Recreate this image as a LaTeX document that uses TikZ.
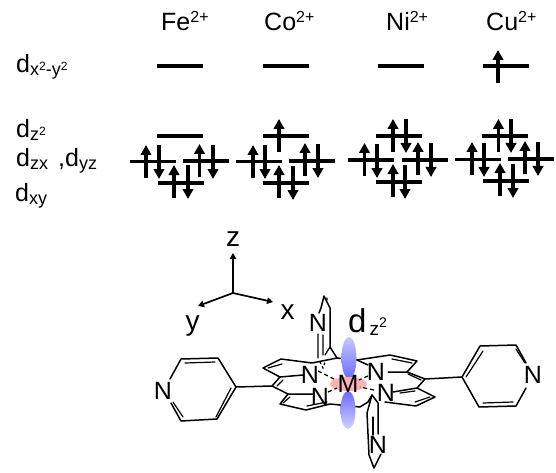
\documentclass[tikz,border=0pt]{standalone}
\usepackage{fontspec}
\setmainfont{Liberation Sans}
\usetikzlibrary{arrows.meta}
\newcommand{\fsz}[1]{\fontsize{#1}{#1}\selectfont}
\newcommand{\subd}[1]{\raisebox{-3pt}{\fsz{18}#1}}
\newcommand{\supd}[1]{\raisebox{5pt}{\fsz{12}#1}}
\newcommand{\ionsup}{\raisebox{8.5pt}{\fsz{16}2+}}

\begin{document}
\begin{tikzpicture}[x=1pt, y=-1pt, font=\fsz{25},
  lvl/.style={line width=3.1pt},
  elec/.style={line width=3.1pt, -{Triangle[length=10pt, width=10.5pt]}},
  ax/.style={line width=1.7pt, -{Triangle[length=6pt, width=6.5pt]}},
  bond/.style={line width=1.5pt, line cap=round, line join=round},
  thin bond/.style={line width=1.2pt, line cap=round},
  metal/.style={line width=1.2pt, dash pattern=on 4pt off 3pt},
  ion/.style={anchor=base west},
  orb/.style={anchor=base west},
  atom/.style={font=\fsz{25}, inner sep=0pt}]
  \useasboundingbox (0,0) rectangle (556,473);
  % ---------- ions ----------
  \foreach \x/\n/\t in {161/fe/Fe, 264/co/Co, 386/ni/Ni, 486/cu/Cu}
    { \node[ion, inner sep=0pt] (ion\n) at (\x, 31) {\t\ionsup}; }
  % ---------- orbital names ----------
  \node[orb, inner sep=0pt] (dxy2) at (16, 73) {d\subd{x\supd{2}-y\supd{2}}};
  \node[orb, inner sep=0pt] (dz) at (16, 138) {d\subd{z\supd{2}}};
  \node[orb, inner sep=0pt] (dzx) at (16, 166) {d\subd{zx}};
  \node[orb, inner sep=0pt] (dyz) at (58, 166) {,d\subd{yz}};
  \node[orb, inner sep=0pt] (dxy) at (15, 201) {d\subd{xy}};
  % ---------- levels ----------
  \foreach \x/\y in {157/66, 157/136, 130/161.5, 183/161, 158/183,
    263/66, 263/136, 236/161.5, 289/161, 263/183,
    378/66, 376/136, 348/160, 402/160, 376/182,
    483/66, 482/136, 455/159.5, 508/159, 483/181}
    { \draw[lvl] (\x, \y) -- ++(46, 0); }
  % ---------- spin up ----------
  \foreach \x/\y in {146/178, 199.5/177, 174/198,
    279/152, 253/178, 305/176, 279/198,
    393/152, 364.5/176, 418/175, 393/197,
    498/83, 498.5/152, 472/175, 525/174, 500/196}
    { \draw[elec] (\x, \y) -- ++(0, -33); }
  % ---------- spin down ----------
  \foreach \x/\y in {159/145, 213/145, 188/165,
    265/145, 318/144, 293/166,
    406/119, 377/144, 431/143, 405/165,
    511/119, 484/143, 538/142, 513/164}
    { \draw[elec] (\x, \y) -- ++(0, 34); }
  % ---------- axes ----------
  \coordinate (orig) at (233, 293);
  \node[font=\fsz{28}, inner sep=0pt] (zlab) at (233, 239) {z};
  \node[font=\fsz{28}, inner sep=0pt] (xlab) at (287.5, 312) {x};
  \node[font=\fsz{28}, inner sep=0pt] (ylab) at (192.5, 326) {y};
  \coordinate (ztip) at (233, 253);
  \coordinate (xtip) at (273, 302);
  \coordinate (ytip) at (198, 306);
  \draw[ax] (orig) -- (ztip);
  \draw[ax] (orig) -- (xtip);
  \draw[ax] (orig) -- (ytip);
  % ---------- molecule ----------
  \node[atom] (nl) at (163, 391) {N};
  \node[atom] (nr) at (533, 375) {N};
  \node[atom] (nt) at (318, 323) {N};
  \node[atom] (nb) at (378, 445) {N};
  \node[atom] (n1) at (310, 375) {N};
  \node[atom] (n2) at (320, 397) {N};
  \node[atom] (n3) at (376, 372) {N};
  \node[atom] (n4) at (386, 393) {N};
  % left pyridine
  \draw[bond] (170,379) -- (181,359) -- (218,358) -- (236,387) -- (217,419) -- (181,421) -- (171,403);
  \draw[thin bond] (185,363) -- (215,362) (231,388) -- (216,417) (173,402) -- (183,417);
  \draw[bond] (236,387) -- (272,386);
  % right pyridine
  \draw[bond] (526,363) -- (516,345) -- (480,346) -- (462,377) -- (479,407) -- (516,406) -- (526,388);
  \draw[thin bond] (466,377) -- (483,351) (516,349) -- (525,363) (483,403) -- (513,402);
  \draw[bond] (425,379) -- (462,377);
  % porphyrin ring
  \draw[bond] (303,375) -- (280,377) -- (263,368) -- (281,359) -- (312,363) -- (337,358) -- (357,360) -- (390,355) -- (417,361) -- (407,372) -- (388,372);
  \draw[bond] (357,360) -- (368,365);
  \draw[bond] (280,377) -- (272,386) -- (288,394) -- (314,394);
  \draw[bond] (288,394) -- (280,404) -- (306,410) -- (330,404) -- (360,407) -- (368,402);
  \draw[bond] (407,372) -- (425,379) -- (417,388) -- (435,397) -- (416,406) -- (385,402);
  \draw[bond] (417,388) -- (393,392);
  \draw[thin bond] (268,368) -- (282,364) (277,386) -- (283,380) (283,403) -- (290,397) (307,406) -- (327,402);
  \draw[thin bond] (392,359) -- (412,363) (408,374) -- (421,380) (400,393) -- (415,391) (415,402) -- (430,397);
  % upper pyridine
  \draw[bond] (337,358) -- (330,347) -- (330,308) -- (324,296) -- (321,308) -- (319,313);
  \draw[thin bond] (318,334) -- (318,358) (323,335) -- (323,355) (330,347) -- (325,355);
  \draw[thin bond, dash pattern=on 2pt off 3pt] (320,362) -- (323,368) -- (325,362) (327,298) -- (327,302);
  % lower pyridine
  \draw[bond] (368,402) -- (372,395) -- (378,403) -- (378,434);
  \draw[bond] (372,395) -- (367,413) -- (369,455) -- (374,468) -- (381,454);
  \draw[thin bond] (373,417) -- (373,435);
  % ---------- d orbitals ----------
  \shade[top color=blue!22!white, bottom color=blue!58!white] (349,358) ellipse (7.5 and 21);
  \shade[top color=blue!58!white, bottom color=blue!18!white] (348,410) ellipse (7.5 and 19);
  \fill[red!30!white] (348.5,384) ellipse (18.5 and 7);
  \node[atom] (metal) at (348, 384) {M};
  \draw[metal] (318,371) -- (336,380);
  \draw[metal] (328,392) -- (337,388);
  \draw[metal] (368,376) -- (359,380);
  \draw[metal] (374,390) -- (360,387);
  \node[orb, inner sep=0pt, font=\fsz{33}] (dzlab) at (348, 332) {d{\raisebox{-3pt}{\fsz{19}\,z\raisebox{8pt}{\fsz{14}2}}}};
\end{tikzpicture}
\end{document}
